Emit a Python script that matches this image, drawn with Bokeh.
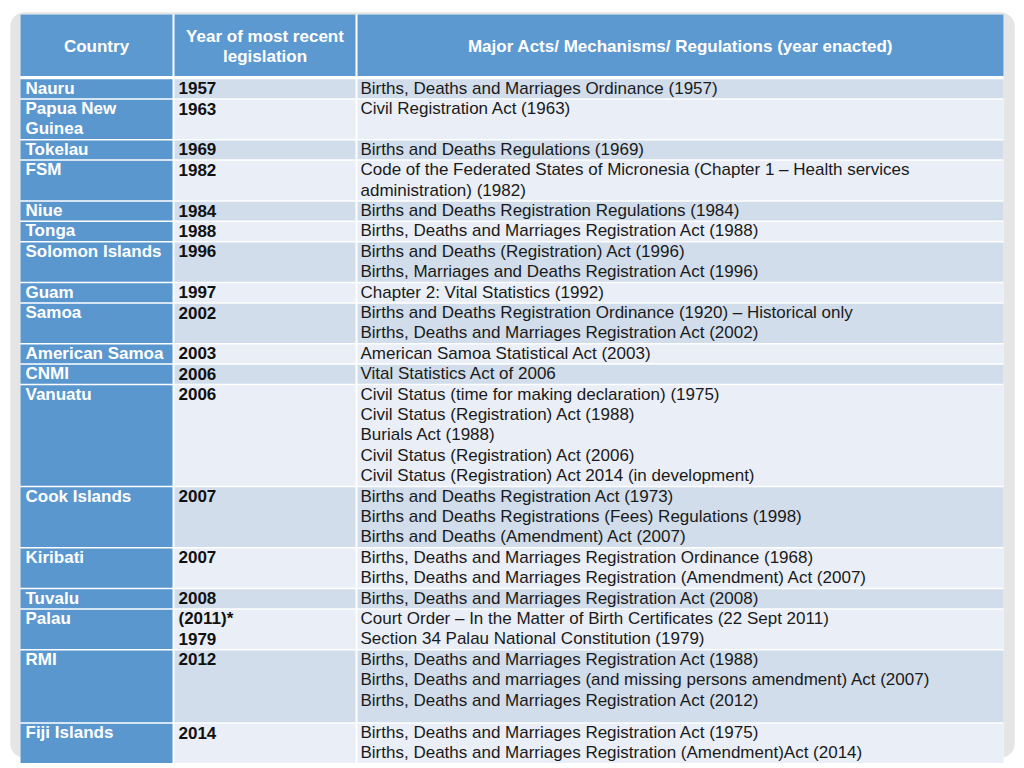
from bokeh.plotting import figure
from bokeh.models import Range1d, ColumnDataSource, BoxAnnotation
from bokeh.core.properties import value
from bokeh.embed import file_html
from bokeh.resources import INLINE

# ---------------- data ----------------
headers = ["Country", "Year of most recent\nlegislation",
           "Major Acts/ Mechanisms/ Regulations (year enacted)"]

countries = ["Nauru", "Papua New\nGuinea", "Tokelau", "FSM", "Niue", "Tonga",
             "Solomon Islands", "Guam", "Samoa", "American Samoa", "CNMI",
             "Vanuatu", "Cook Islands", "Kiribati", "Tuvalu", "Palau", "RMI",
             "Fiji Islands"]

years = ["1957", "1963", "1969", "1982", "1984", "1988", "1996", "1997", "2002",
         "2003", "2006", "2006", "2007", "2007", "2008", "(2011)*\n1979", "2012",
         "2014"]

acts = [
    ["Births, Deaths and Marriages Ordinance (1957)"],
    ["Civil Registration Act (1963)"],
    ["Births and Deaths Regulations (1969)"],
    ["Code of the Federated States of Micronesia (Chapter 1 \u2013 Health services",
     "administration) (1982)"],
    ["Births and Deaths Registration Regulations (1984)"],
    ["Births, Deaths and Marriages Registration Act (1988)"],
    ["Births and Deaths (Registration) Act (1996)",
     "Births, Marriages and Deaths Registration Act (1996)"],
    ["Chapter 2: Vital Statistics (1992)"],
    ["Births and Deaths Registration Ordinance (1920) \u2013 Historical only",
     "Births, Deaths and Marriages Registration Act (2002)"],
    ["American Samoa Statistical Act (2003)"],
    ["Vital Statistics Act of 2006"],
    ["Civil Status (time for making declaration) (1975)",
     "Civil Status (Registration) Act (1988)",
     "Burials Act (1988)",
     "Civil Status (Registration) Act (2006)",
     "Civil Status (Registration) Act 2014 (in development)"],
    ["Births and Deaths Registration Act (1973)",
     "Births and Deaths Registrations (Fees) Regulations (1998)",
     "Births and Deaths (Amendment) Act (2007)"],
    ["Births, Deaths and Marriages Registration Ordinance (1968)",
     "Births, Deaths and Marriages Registration (Amendment) Act (2007)"],
    ["Births, Deaths and Marriages Registration Act (2008)"],
    ["Court Order \u2013 In the Matter of Birth Certificates (22 Sept 2011)",
     "Section 34 Palau National Constitution  (1979)"],
    ["Births, Deaths and Marriages Registration Act (1988)",
     "Births, Deaths and marriages (and missing persons amendment) Act (2007)",
     "Births, Deaths and Marriages Registration Act (2012)"],
    ["Births, Deaths and Marriages Registration Act (1975)",
     "Births, Deaths and Marriages Registration (Amendment)Act (2014)"],
]

# ---------------- layout / style ----------------
FONT = value("Liberation Sans")
FS = "17px"
COLS = [(20, 172), (174, 355), (357, 1003)]
TEXT_X = [25, 178, 360]
HEAD_TOP, HEAD_BOT, BODY_TOP = 14, 75.5, 78
LH = 20.4
GAP = 0.75
LINE_MID = 9.6          # vertical centre of first text line below a row's top
EXTRA_PAD = {"RMI": 12}
BLUE_HEAD = "#5d99d1"
BLUE_COL = "#5b97cf"
ROW_DARK = "#d1ddeb"
ROW_LIGHT = "#e9eef7"

W, H = 1016, 768
p = figure(width=W, height=H, output_backend="svg", toolbar_location=None,
           x_range=Range1d(0, W), y_range=Range1d(H, 0),
           min_border=0, outline_line_color=None,
           x_axis_location=None, y_axis_location=None)
p.xgrid.visible = False
p.ygrid.visible = False
p.background_fill_color = "white"
p.border_fill_color = "white"

# rounded frame behind the table
p.add_layout(BoxAnnotation(left=10, right=1014, top=12, bottom=757,
                           fill_color="#e5e5e5", fill_alpha=1.0,
                           line_color="#dddddd", line_width=1,
                           border_radius=14, level="underlay"))

# row geometry derived from number of lines
tops, bots = [], []
y = BODY_TOP
for c, yr, a in zip(countries, years, acts):
    n = max(len(c.split("\n")), len(yr.split("\n")), len(a))
    h = n * LH + EXTRA_PAD.get(c, 0)
    tops.append(y)
    bots.append(y + h)
    y += h

# white table backing
p.quad(left=[COLS[0][0]], right=[COLS[2][1]], top=[HEAD_TOP], bottom=[bots[-1]],
       fill_color="white", line_color=None)

# header cells
p.quad(left=[c[0] for c in COLS], right=[c[1] for c in COLS],
       top=[HEAD_TOP] * 3, bottom=[HEAD_BOT] * 3,
       fill_color=BLUE_HEAD, line_color=None)

# body cells
cl, cr, ct, cb, cc = [], [], [], [], []
for i, (t, b) in enumerate(zip(tops, bots)):
    shade = ROW_DARK if i % 2 == 0 else ROW_LIGHT
    for j, (l, r) in enumerate(COLS):
        cl.append(l); cr.append(r); ct.append(t + GAP); cb.append(b - GAP)
        cc.append(BLUE_COL if j == 0 else shade)
p.quad(source=ColumnDataSource(dict(left=cl, right=cr, top=ct, bottom=cb, color=cc)),
       left="left", right="right", top="top", bottom="bottom",
       fill_color="color", line_color=None)

# header texts
hx, hy, ht = [], [], []
hc = (HEAD_TOP + HEAD_BOT) / 2
for (l, r), h in zip(COLS, headers):
    lines = h.split("\n")
    n = len(lines)
    for k, ln in enumerate(lines):
        hx.append((l + r) / 2)
        hy.append(hc + 1.5 + (k - (n - 1) / 2) * LH)
        ht.append(ln)
p.text(x=hx, y=hy, text=ht, text_font=FONT, text_font_size=FS,
       text_font_style="bold", text_color="white",
       text_align="center", text_baseline="middle")

# body texts
def col_text(values, col, style, color):
    xs, ys, ts = [], [], []
    for t, v in zip(tops, values):
        lines = v if isinstance(v, list) else v.split("\n")
        for k, ln in enumerate(lines):
            xs.append(TEXT_X[col]); ys.append(t + LINE_MID + k * LH); ts.append(ln)
    p.text(x=xs, y=ys, text=ts, text_font=FONT, text_font_size=FS,
           text_font_style=style, text_color=color,
           text_align="left", text_baseline="middle")

col_text(countries, 0, "bold", "white")
col_text(years, 1, "bold", "#111111")
col_text(acts, 2, "normal", "#1a1a1a")

open("out.html", "w").write(file_html(p, INLINE))
